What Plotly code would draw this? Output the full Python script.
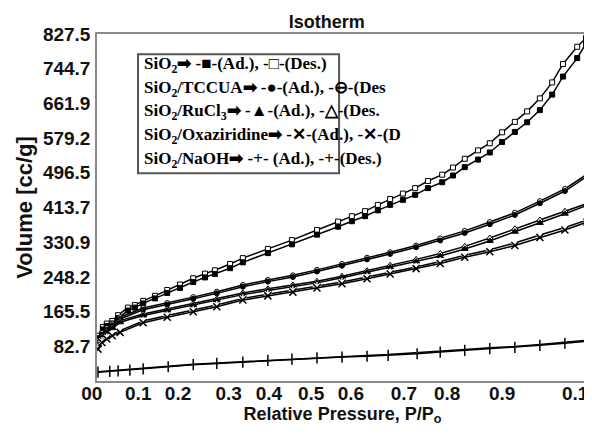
import plotly.graph_objects as go

# ---------------- data ----------------
sio2_p = [0.002, 0.012, 0.020, 0.031, 0.043, 0.063, 0.077, 0.094, 0.118, 0.143, 0.169, 0.196, 0.220, 0.240,
          0.271, 0.297, 0.348, 0.397, 0.448, 0.491, 0.519, 0.546, 0.572, 0.597, 0.623, 0.648, 0.674, 0.703,
          0.725, 0.749, 0.776, 0.800, 0.825, 0.851, 0.876, 0.902, 0.927, 0.949, 0.978, 0.996]
sio2_ad = [102, 123, 131, 137, 150, 168, 175, 185, 197, 210, 222, 236, 247, 255, 269, 283, 305, 326, 349, 368,
           381, 393, 407, 420, 432, 444, 460, 474, 490, 510, 528, 545, 570, 594, 617, 646, 683, 726, 770, 805]
sio2_des = [108, 129, 137, 143, 157, 175, 181, 191, 203, 217, 230, 245, 256, 264, 279, 293, 315, 336, 360, 380,
            393, 405, 420, 434, 447, 460, 477, 492, 509, 530, 550, 567, 593, 618, 643, 674, 712, 756, 797, 818]

mod_p = [0.002, 0.010, 0.020, 0.031, 0.047, 0.094, 0.143, 0.196, 0.244, 0.297, 0.348, 0.399, 0.448, 0.499,
         0.550, 0.597, 0.650, 0.699, 0.749, 0.800, 0.851, 0.902, 0.953, 0.998]
tccua_ad = [92, 110, 122, 133, 148, 170, 182, 196, 209, 225, 237, 248, 261, 275, 290, 303, 319, 335, 353, 374,
            396, 424, 453, 488]
tccua_des = [96, 114, 126, 137, 152, 174, 186, 200, 213, 229, 241, 252, 265, 279, 294, 307, 323, 340, 358, 379,
             401, 429, 458, 493]
rucl3_ad = [85, 103, 115, 126, 140, 156, 168, 180, 192, 206, 216, 225, 234, 246, 259, 271, 285, 298, 315, 334,
            356, 377, 399, 419]
rucl3_des = [88, 106, 118, 129, 144, 160, 172, 184, 196, 210, 220, 229, 238, 250, 263, 276, 290, 304, 321, 341,
             363, 384, 405, 423]
oxaz_ad = [76, 92, 100, 108, 116, 139, 152, 165, 177, 193, 203, 212, 222, 232, 244, 255, 268, 280, 295, 308,
           323, 342, 360, 379]
oxaz_des = [79, 95, 103, 111, 120, 143, 156, 169, 181, 197, 207, 216, 226, 236, 248, 259, 272, 285, 300, 313,
            329, 348, 366, 384]

naoh_p = [0.002, 0.026, 0.043, 0.067, 0.094, 0.145, 0.196, 0.244, 0.297, 0.348, 0.397, 0.448, 0.499, 0.550,
          0.593, 0.652, 0.699, 0.749, 0.800, 0.851, 0.902, 0.953, 0.998]
naoh_ad = [21, 23, 24, 26, 29, 34, 39, 42, 45, 49, 52, 55, 57, 59, 61, 65, 69, 73, 77, 80, 85, 90, 95]
naoh_des = [22, 24, 25, 27, 30, 35, 40, 43, 46, 50, 53, 56, 58, 61, 63, 67, 71, 75, 79, 82, 87, 92, 97]

y_tick_vals = [82.7, 165.5, 248.2, 330.9, 413.7, 496.5, 579.2, 661.9, 744.7, 827.5]
y_tick_text = ["82.7", "165.5", "248.2", "330.9", "413.7", "496.5", "579.2", "661.9", "744.7", "827.5"]
x_tick_vals = [0, 0.084, 0.165, 0.268, 0.350, 0.436, 0.517, 0.625, 0.713, 0.825, 0.974]
x_tick_text = ["00\u00a0\u00a0", "0.1", "0.2", "0.3", "0.4", "0.5", "0.6", "0.7", "0.8", "0.9", "0.1"]

legend_rows = [
    "SiO<sub>2</sub>\u27a1 -\u25a0-(Ad.), -\u25a1-(Des.)",
    "SiO<sub>2</sub>/TCCUA\u27a1 -\u25cf-(Ad.), -\u2296-(Des",
    "SiO<sub>2</sub>/RuCl<sub>3</sub>\u27a1 -\u25b2-(Ad.), -\u25b3-(Des.",
    "SiO<sub>2</sub>/Oxaziridine\u27a1 -\u2715-(Ad.), -\u2715-(D",
    "SiO<sub>2</sub>/NaOH\u27a1 -+- (Ad.), -+-(Des.)",
]

# ---------------- figure ----------------
fig = go.Figure()


def add(x, y, symbol, filled, size=5, lw=1.0):
    fig.add_trace(go.Scatter(
        x=x, y=y, mode="lines+markers",
        line=dict(color="black", width=1.5),
        marker=dict(symbol=symbol, size=size,
                    color="black" if filled else "white",
                    line=dict(color="black", width=lw)),
        showlegend=False, hoverinfo="x+y"))


add(sio2_p, sio2_des, "square", False)
add(sio2_p, sio2_ad, "square", True)
add(mod_p, tccua_des, "circle", False)
add(mod_p, tccua_ad, "circle", True)
add(mod_p, rucl3_des, "triangle-up", False, size=6)
add(mod_p, rucl3_ad, "triangle-up", True, size=6)
add(mod_p, oxaz_des, "asterisk-open", False, size=7, lw=1.3)
add(mod_p, oxaz_ad, "x-thin-open", True, size=7, lw=1.5)
add(naoh_p, naoh_des, "line-ns-open", False, size=8, lw=1.5)
add(naoh_p, naoh_ad, "line-ns-open", True, size=8, lw=1.5)

# legend box
fig.add_shape(type="rect", xref="paper", yref="paper",
              x0=0.0835, x1=0.493, y0=0.599, y1=0.942,
              line=dict(color="#555555", width=2), fillcolor="white", layer="above")

row_y = [0.910, 0.841, 0.775, 0.705, 0.636]
for txt, yy in zip(legend_rows, row_y):
    fig.add_annotation(xref="paper", yref="paper", x=0.092, y=yy,
                       xanchor="left", yanchor="middle", showarrow=False, text=txt,
                       font=dict(family="Liberation Serif", size=17, color="black", weight="bold"))

axis_font = dict(family="Liberation Sans", size=19, color="#111111", weight="bold")

# the page body adds an 8px offset, so the figure is sized to the remaining window area
fig.update_layout(
    width=584, height=427,
    margin=dict(l=89, r=4, t=26, b=54),
    paper_bgcolor="white", plot_bgcolor="white",
    title=dict(text="Isotherm", x=0.546, xref="container", xanchor="center",
               y=0.967, yref="container", yanchor="middle",
               font=dict(family="Liberation Sans", size=18, color="#111111", weight="bold")),
    xaxis=dict(range=[0, 1], tickvals=x_tick_vals, ticktext=x_tick_text,
               showgrid=False, zeroline=False, showline=True, mirror=True,
               linecolor="#8a8a8a", linewidth=1.5, ticks="", ticklabelstandoff=-6,
               tickfont=axis_font, automargin=False,
               title=dict(text="Relative Pressure, P/P<sub>o</sub>",
                          font=dict(family="Liberation Sans", size=18, color="#111111", weight="bold"),
                          standoff=0)),
    yaxis=dict(range=[0, 827.5], tickvals=y_tick_vals, ticktext=y_tick_text,
               showgrid=False, zeroline=False, showline=True, mirror=True,
               linecolor="#8a8a8a", linewidth=1.5, ticks="", ticklabelstandoff=1,
               tickfont=axis_font, automargin=False,
               title=dict(text="Volume [cc/g]",
                          font=dict(family="Liberation Sans", size=22, color="#111111", weight="bold"),
                          standoff=4)),
)

fig.write_html("out.html")
